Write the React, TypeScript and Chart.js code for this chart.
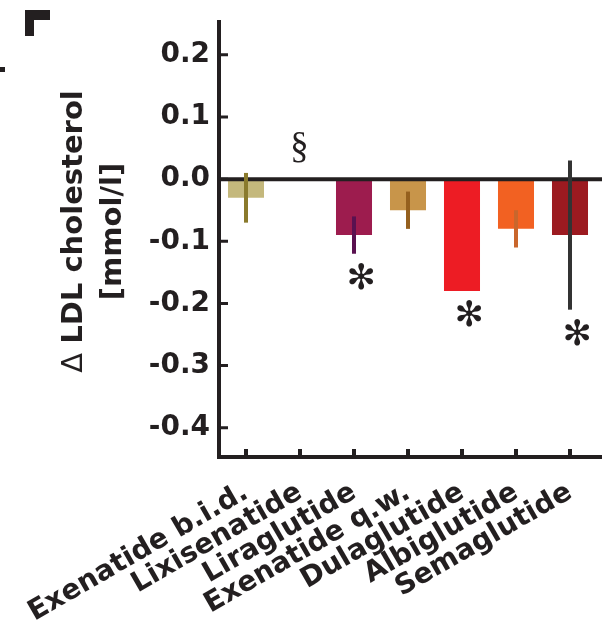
import { useEffect, useRef } from "react";
import { Chart, registerables } from "chart.js";

Chart.register(...registerables);

const CATEGORIES = [
  "Exenatide b.i.d.",
  "Lixisenatide",
  "Liraglutide",
  "Exenatide q.w.",
  "Dulaglutide",
  "Albiglutide",
  "Semaglutide",
];
const MEAN_CHANGE = [-0.03, null, -0.09, -0.05, -0.18, -0.08, -0.09];
const ERROR_HIGH = [0.01, null, -0.06, -0.02, null, -0.05, 0.03];
const ERROR_LOW = [-0.07, null, -0.12, -0.08, null, -0.11, -0.21];
const SIGNIFICANCE = ["", "§", "✻", "", "✻", "", "✻"];
const Y_TICKS = [0.2, 0.1, 0.0, -0.1, -0.2, -0.3, -0.4];
const Y_TITLE_SYMBOL = "Δ ";
const Y_TITLE_LINE1 = "LDL cholesterol";
const Y_TITLE_LINE2 = "[mmol/l]";

const BAR_COLORS = ["#c4b87c", "#999999", "#9d1c4e", "#c8954a", "#ed1c24", "#f26122", "#9c1a20"];
const ERROR_COLORS = ["#8a7a2c", "#666666", "#5a1150", "#95601e", "#b01010", "#c9662c", "#333333"];
const INK = "#231f20";
const SANS = "'DejaVu Sans'";
const SERIF = "'Liberation Serif'";

function drawInkCentered(ctx: CanvasRenderingContext2D, text: string, family: string, inkHeight: number, cx: number, cy: number) {
  ctx.font = `100px ${family}`;
  const m0 = ctx.measureText(text);
  const h0 = m0.actualBoundingBoxAscent + m0.actualBoundingBoxDescent;
  const size = (100 * inkHeight) / h0;
  ctx.font = `${size}px ${family}`;
  const m = ctx.measureText(text);
  ctx.textAlign = "left";
  ctx.textBaseline = "alphabetic";
  const x = cx - (m.actualBoundingBoxRight - m.actualBoundingBoxLeft) / 2;
  const y = cy + (m.actualBoundingBoxAscent - m.actualBoundingBoxDescent) / 2;
  ctx.fillText(text, x, y);
}

const overlay = {
  id: "overlay",
  afterDatasetsDraw(chart: any) {
    const { ctx, chartArea: ca, scales } = chart;
    const xs = scales.x;
    const ys = scales.y;
    const W = chart.width;
    ctx.save();
    ctx.lineCap = "butt";

    // zero line
    const y0 = ys.getPixelForValue(0);
    ctx.strokeStyle = INK;
    ctx.lineWidth = 4;
    ctx.beginPath();
    ctx.moveTo(ca.left, y0);
    ctx.lineTo(W, y0);
    ctx.stroke();

    // error bars
    CATEGORIES.forEach((_, i) => {
      const lo = ERROR_LOW[i];
      const hi = ERROR_HIGH[i];
      if (lo == null || hi == null) return;
      const px = xs.getPixelForValue(i);
      ctx.strokeStyle = ERROR_COLORS[i];
      ctx.lineWidth = 4;
      ctx.beginPath();
      ctx.moveTo(px, ys.getPixelForValue(hi));
      ctx.lineTo(px, ys.getPixelForValue(lo));
      ctx.stroke();
    });

    // axes
    ctx.strokeStyle = INK;
    ctx.lineWidth = 4;
    ctx.beginPath();
    ctx.moveTo(ca.left, ca.top);
    ctx.lineTo(ca.left, ca.bottom + 2);
    ctx.moveTo(ca.left - 2, ca.bottom);
    ctx.lineTo(W, ca.bottom);
    ctx.stroke();

    // y ticks (inward)
    ctx.lineWidth = 3;
    ctx.beginPath();
    Y_TICKS.forEach((v) => {
      const py = ys.getPixelForValue(v);
      ctx.moveTo(ca.left, py);
      ctx.lineTo(ca.left + 9, py);
    });
    ctx.stroke();

    // x ticks (inward)
    ctx.lineWidth = 4;
    ctx.beginPath();
    CATEGORIES.forEach((_, i) => {
      const px = xs.getPixelForValue(i);
      ctx.moveTo(px, ca.bottom);
      ctx.lineTo(px, ca.bottom - 8);
    });
    ctx.stroke();

    // significance marks
    ctx.fillStyle = INK;
    CATEGORIES.forEach((_, i) => {
      const mark = SIGNIFICANCE[i];
      if (!mark) return;
      const px = xs.getPixelForValue(i);
      if (mark === "§") {
        drawInkCentered(ctx, mark, SERIF, 30, px - 1, y0 - 32);
      } else {
        const lows = [MEAN_CHANGE[i], ERROR_LOW[i]].filter((v) => v != null) as number[];
        const low = Math.min(...lows);
        drawInkCentered(ctx, mark, SANS, 27, px + 7, ys.getPixelForValue(low) + 22);
      }
    });

    ctx.restore();
  },
  afterDraw(chart: any) {
    const { ctx, chartArea: ca } = chart;
    ctx.save();
    ctx.fillStyle = INK;

    // y-axis title, two rotated lines
    const cy = (ca.top + ca.bottom) / 2 - 7;
    ctx.textBaseline = "alphabetic";
    ctx.textAlign = "left";
    const boldFont = `bold 29px ${SANS}`;
    const normalFont = `29px ${SANS}`;
    ctx.font = normalFont;
    const wSym = ctx.measureText(Y_TITLE_SYMBOL).width;
    ctx.font = boldFont;
    const w1 = ctx.measureText(Y_TITLE_LINE1).width;
    const w2 = ctx.measureText(Y_TITLE_LINE2).width;

    ctx.save();
    ctx.translate(82, cy);
    ctx.rotate(-Math.PI / 2);
    const start = -(wSym + w1) / 2;
    ctx.font = normalFont;
    ctx.fillText(Y_TITLE_SYMBOL, start, 0);
    ctx.font = boldFont;
    ctx.fillText(Y_TITLE_LINE1, start + wSym, 0);
    ctx.restore();

    ctx.save();
    ctx.translate(121, cy);
    ctx.rotate(-Math.PI / 2);
    ctx.font = boldFont;
    ctx.fillText(Y_TITLE_LINE2, -w2 / 2, 0);
    ctx.restore();

    // cropped panel-edge fragments
    ctx.fillRect(25, 10, 25, 10);
    ctx.fillRect(25, 10, 9, 26);
    ctx.fillRect(0, 67, 5, 5);

    ctx.restore();
  },
};

export default function App() {
  const ref = useRef<HTMLCanvasElement | null>(null);

  useEffect(() => {
    if (!ref.current) return;
    const chart = new Chart(ref.current, {
      type: "bar",
      data: {
        labels: CATEGORIES,
        datasets: [
          {
            data: MEAN_CHANGE as any,
            backgroundColor: BAR_COLORS,
            borderWidth: 0,
            barPercentage: 0.667,
            categoryPercentage: 1,
          },
        ],
      },
      options: {
        animation: false,
        responsive: false,
        devicePixelRatio: 1,
        layout: { padding: { top: 20, right: 5, bottom: 0, left: 0 } },
        plugins: {
          legend: { display: false },
          tooltip: { enabled: false },
          title: { display: false },
        },
        scales: {
          x: {
            type: "category",
            offset: true,
            grid: { display: false, drawTicks: false },
            border: { display: false },
            ticks: {
              autoSkip: false,
              minRotation: 30,
              maxRotation: 30,
              padding: 19,
              color: INK,
              font: { family: "DejaVu Sans", weight: "bold", size: 28 },
            },
            afterFit(scale: any) {
              scale.height = 169;
              scale.paddingLeft = 0;
              scale.paddingRight = 0;
            },
          },
          y: {
            type: "linear",
            min: -0.447,
            max: 0.256,
            grid: { display: false, drawTicks: false },
            border: { display: false },
            afterBuildTicks(axis: any) {
              axis.ticks = Y_TICKS.map((v) => ({ value: v }));
            },
            ticks: {
              padding: 9,
              color: INK,
              font: { family: "DejaVu Sans", weight: "bold", size: 28 },
              callback: (v: any) => Number(v).toFixed(1),
            },
            afterFit(scale: any) {
              scale.width = 219;
              scale.paddingTop = 0;
              scale.paddingBottom = 0;
            },
          },
        },
      },
      plugins: [overlay],
    });
    return () => chart.destroy();
  }, []);

  return (
    <div style={{ position: "absolute", left: 0, top: 0, width: 602, height: 626, background: "#fff" }}>
      <canvas ref={ref} width={602} height={626} style={{ display: "block" }} />
    </div>
  );
}
